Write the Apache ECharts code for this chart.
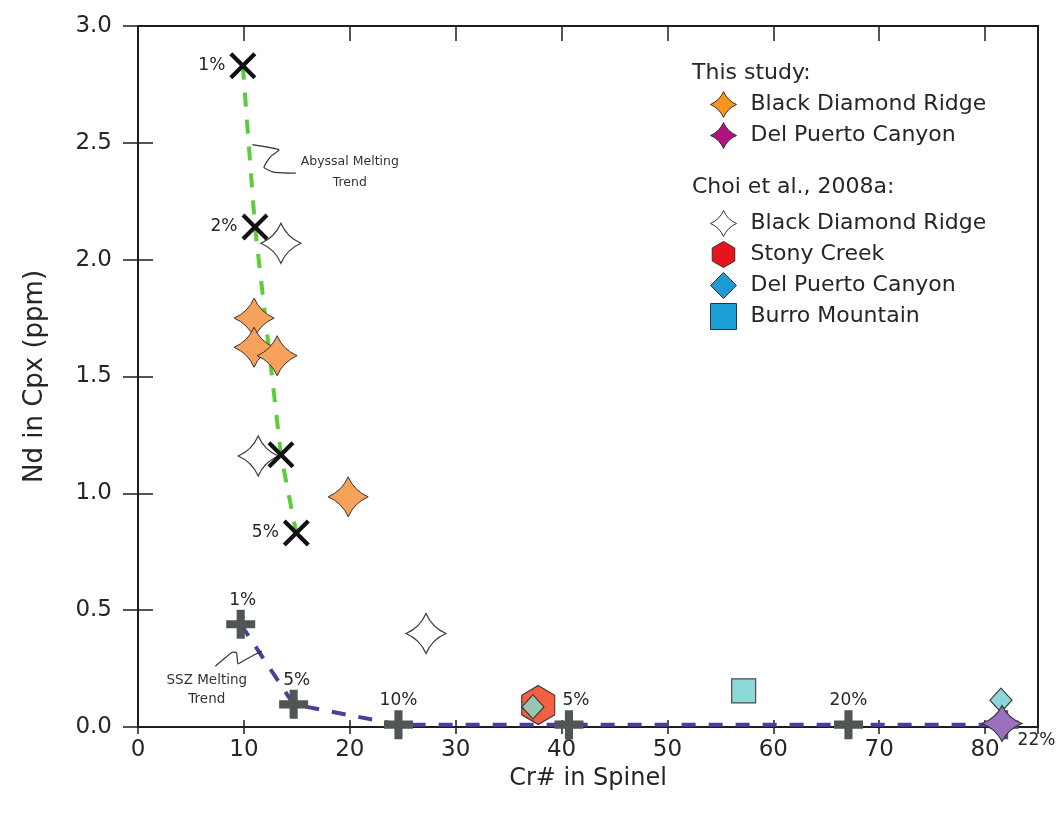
<!DOCTYPE html>
<html>
<head>
<meta charset="utf-8">
<script src="https://cdn.jsdelivr.net/npm/echarts@6/dist/echarts.min.js"></script>
<style>
  html, body { margin: 0; padding: 0; background: #ffffff; }
  #chart { width: 1057px; height: 817px; }
</style>
</head>
<body>
<div id="chart"></div>
<script>
// ---- Model melting trends (Cr# in spinel vs Nd in cpx) ----
const abyssalCr   = [9.9, 11.05, 13.5, 14.95];
const abyssalNd   = [2.83, 2.14, 1.165, 0.83];
const abyssalTags = ['1%', '2%', '', '5%'];

const sszCr   = [9.7, 14.7, 24.6, 40.7, 67.1, 81.8];
const sszNd   = [0.44, 0.097, 0.01, 0.01, 0.01, 0.01];
const sszTags = ['1%', '5%', '10%', '5%', '20%', '22%'];

// ---- This study ----
const bdrCr = [10.97, 10.96, 13.14, 19.85];
const bdrNd = [1.75, 1.625, 1.589, 0.985];
const dpcCr = [81.6];
const dpcNd = [0.015];

// ---- Choi et al., 2008a ----
const choiBdrCr = [13.5, 11.35, 27.2];
const choiBdrNd = [2.07, 1.16, 0.40];
const stonyCr   = [37.8];
const stonyNd   = [0.094];
const choiDpcCr = [37.3, 81.5];
const choiDpcNd = [0.086, 0.115];
const burroCr   = [57.2];
const burroNd   = [0.155];

// ---- Axis ticks ----
const xTicks = [0, 10, 20, 30, 40, 50, 60, 70, 80];
const yTicks = [0.0, 0.5, 1.0, 1.5, 2.0, 2.5, 3.0];

const FONT = 'DejaVu Sans';
const TXT = '#262626';

const STAR4 = 'path://M0,-10 Q3,-3 10,0 Q3,3 0,10 Q-3,3 -10,0 Q-3,-3 0,-10Z';
const XMARK = 'path://M-10,-7.8 L-7.8,-10 L0,-2.2 L7.8,-10 L10,-7.8 L2.2,0 L10,7.8 L7.8,10 L0,2.2 L-7.8,10 L-10,7.8 L-2.2,0Z';
const PLUS  = 'path://M-2.8,-10 L2.8,-10 L2.8,-2.8 L10,-2.8 L10,2.8 L2.8,2.8 L2.8,10 L-2.8,10 L-2.8,2.8 L-10,2.8 L-10,-2.8 L-2.8,-2.8Z';
const HEX   = 'path://M0,-10 L8.66,-5 L8.66,5 L0,10 L-8.66,5 L-8.66,-5Z';

const zip = (xs, ys) => xs.map((x, i) => [x, ys[i]]);

const chart = echarts.init(document.getElementById('chart'), null, { renderer: 'canvas' });

const abyssalLabelPos = ['left', 'left', 'left', 'left'];
const sszLabelPos = ['top', 'top', 'top', 'top', 'top', 'right'];
const sszLabelOffset = [[2, 0], [3, 0], [0, 0], [7, 0], [0, 0], [-2, 16]];

const pctLabel = { fontFamily: FONT, fontSize: 17, color: TXT };
const legendText = { fontFamily: FONT, fontSize: 22, color: TXT, padding: [0, 0, 0, 9], lineHeight: 24 };

const headers = [
  { type: 'text', left: 692, top: 62, style: { text: 'This study:', font: '22px "' + FONT + '"', fill: TXT } },
  { type: 'text', left: 692, top: 176, style: { text: 'Choi et al., 2008a:', font: '22px "' + FONT + '"', fill: TXT } }
];

const option = {
  animation: false,
  backgroundColor: '#ffffff',
  grid: { left: 138, right: 19, top: 26, bottom: 90, show: true, borderColor: '#1e1e1e', borderWidth: 2, backgroundColor: 'transparent' },
  xAxis: [
    {
      type: 'value', min: 0, max: 85, interval: 10, position: 'bottom',
      name: 'Cr# in Spinel', nameLocation: 'middle', nameGap: 34,
      nameTextStyle: { fontFamily: FONT, fontSize: 24, color: TXT },
      axisLine: { show: true, lineStyle: { color: '#1e1e1e', width: 2 } },
      axisTick: { show: true, inside: true, length: 7, lineStyle: { color: '#1e1e1e', width: 1.5 } },
      axisLabel: { fontFamily: FONT, fontSize: 23, color: TXT, margin: 12,
        formatter: v => (xTicks.indexOf(v) >= 0 ? String(v) : '') },
      splitLine: { show: false }
    },
    {
      type: 'value', min: 0, max: 85, interval: 10, position: 'bottom',
      axisLine: { show: false },
      axisTick: { show: true, inside: false, length: 7, lineStyle: { color: '#1e1e1e', width: 1.5 } },
      axisLabel: { show: false }, splitLine: { show: false }
    },
    {
      type: 'value', min: 0, max: 85, interval: 10, position: 'top',
      axisLine: { show: true, lineStyle: { color: '#1e1e1e', width: 2 } },
      axisTick: { show: true, inside: true, length: 15, lineStyle: { color: '#1e1e1e', width: 1.5 } },
      axisLabel: { show: false }, splitLine: { show: false }
    }
  ],
  yAxis: [
    {
      type: 'value', min: 0, max: 3, interval: 0.5, position: 'left',
      name: 'Nd in Cpx (ppm)', nameLocation: 'middle', nameGap: 90,
      nameTextStyle: { fontFamily: FONT, fontSize: 26, color: TXT },
      axisLine: { show: true, lineStyle: { color: '#1e1e1e', width: 2 } },
      axisTick: { show: true, inside: true, length: 15, lineStyle: { color: '#1e1e1e', width: 1.5 } },
      axisLabel: { fontFamily: FONT, fontSize: 23, color: TXT, margin: 26,
        formatter: v => (yTicks.indexOf(v) >= 0 ? v.toFixed(1) : '') },
      splitLine: { show: false }
    },
    {
      type: 'value', min: 0, max: 3, interval: 0.5, position: 'right',
      axisLine: { show: true, lineStyle: { color: '#1e1e1e', width: 2 } },
      axisTick: { show: true, inside: true, length: 15, lineStyle: { color: '#1e1e1e', width: 1.5 } },
      axisLabel: { show: false }, splitLine: { show: false }
    }
  ],
  legend: [
    {
      orient: 'vertical', left: 705, top: 86, itemWidth: 26, itemHeight: 26, itemGap: 4,
      selectedMode: false, textStyle: legendText,
      formatter: n => n.split(': ')[1],
      data: [
        { name: 'This study: Black Diamond Ridge', icon: STAR4,
          itemStyle: { color: '#f7941d', borderColor: '#333', borderWidth: 1, opacity: 1 } },
        { name: 'This study: Del Puerto Canyon', icon: STAR4,
          itemStyle: { color: '#b0127f', borderColor: '#333', borderWidth: 1, opacity: 1 } }
      ]
    },
    {
      orient: 'vertical', left: 705, top: 205, itemWidth: 26, itemHeight: 26, itemGap: 4,
      selectedMode: false, textStyle: legendText,
      formatter: n => n.split(': ')[1],
      data: [
        { name: 'Choi: Black Diamond Ridge', icon: STAR4,
          itemStyle: { color: '#ffffff', borderColor: '#333', borderWidth: 1, opacity: 1 } },
        { name: 'Choi: Stony Creek', icon: HEX,
          itemStyle: { color: '#e8141c', borderColor: '#333', borderWidth: 1, opacity: 1 } },
        { name: 'Choi: Del Puerto Canyon', icon: 'diamond',
          itemStyle: { color: '#1c9ad6', borderColor: '#333', borderWidth: 1, opacity: 1 } },
        { name: 'Choi: Burro Mountain', icon: 'path://M-8,-8 L8,-8 L8,8 L-8,8Z',
          itemStyle: { color: '#1c9ed6', borderColor: '#333', borderWidth: 1, opacity: 1 } }
      ]
    }
  ],
  graphic: headers,
  series: [
    {
      name: 'Abyssal Melting Trend', type: 'line', z: 1, symbol: 'none', silent: true,
      data: zip(abyssalCr, abyssalNd),
      lineStyle: { color: '#5ccc3a', width: 4, type: [14, 13] }
    },
    {
      name: 'SSZ Melting Trend', type: 'line', z: 1, symbol: 'none', silent: true,
      data: zip(sszCr, sszNd),
      lineStyle: { color: '#4b3f9c', width: 4, type: [14, 13] }
    },
    {
      name: 'Choi: Black Diamond Ridge', type: 'scatter', z: 3,
      symbol: STAR4, symbolSize: 40,
      itemStyle: { color: '#ffffff', borderColor: '#3a3a3a', borderWidth: 1.2, opacity: 1 },
      data: zip(choiBdrCr, choiBdrNd)
    },
    {
      name: 'Abyssal steps', type: 'scatter', z: 4,
      symbol: XMARK, symbolSize: 27,
      itemStyle: { color: '#111111', opacity: 1 },
      data: zip(abyssalCr, abyssalNd).map((p, i) => ({
        value: p,
        label: { show: abyssalTags[i] !== '', position: abyssalLabelPos[i], distance: 4,
          formatter: abyssalTags[i], ...pctLabel }
      }))
    },
    {
      name: 'Choi: Stony Creek', type: 'scatter', z: 5,
      symbol: HEX, symbolSize: [33, 39],
      itemStyle: { color: '#f2603f', borderColor: '#3a3a3a', borderWidth: 1.2, opacity: 1 },
      data: zip(stonyCr, stonyNd)
    },
    {
      name: 'SSZ steps', type: 'scatter', z: 4,
      symbol: PLUS, symbolSize: 29,
      itemStyle: { color: '#505555', opacity: 1 },
      data: zip(sszCr, sszNd).map((p, i) => ({
        value: p,
        label: { show: true, position: sszLabelPos[i], distance: 1, offset: sszLabelOffset[i],
          formatter: sszTags[i], ...pctLabel }
      }))
    },
    {
      name: 'Choi: Del Puerto Canyon', type: 'scatter', z: 6,
      symbol: 'diamond', symbolSize: [22, 24],
      itemStyle: { borderColor: '#3a3a3a', borderWidth: 1.2, opacity: 1 },
      data: zip(choiDpcCr, choiDpcNd).map((p, i) => ({
        value: p, itemStyle: { color: i === 0 ? '#97c6b0' : '#8cd7d7' }
      }))
    },
    {
      name: 'Choi: Burro Mountain', type: 'scatter', z: 6,
      symbol: 'rect', symbolSize: 24,
      itemStyle: { color: '#8cd8d6', borderColor: '#4a4a4a', borderWidth: 1.2, opacity: 1 },
      data: zip(burroCr, burroNd)
    },
    {
      name: 'This study: Black Diamond Ridge', type: 'scatter', z: 7,
      symbol: STAR4, symbolSize: 40,
      itemStyle: { color: '#f7a25b', borderColor: '#333', borderWidth: 1, opacity: 1 },
      data: zip(bdrCr, bdrNd)
    },
    {
      name: 'This study: Del Puerto Canyon', type: 'scatter', z: 7,
      symbol: STAR4, symbolSize: [40, 36],
      itemStyle: { color: '#9b70bf', borderColor: '#333', borderWidth: 1, opacity: 1 },
      data: zip(dpcCr, dpcNd)
    }
  ]
};

chart.setOption(option);

// Trend annotations: hand-drawn leader squiggles plus captions, placed in data space
const px = (x, y) => chart.convertToPixel({ gridIndex: 0 }, [x, y]);
const abyssalSquiggle = [[10.8, 2.492], [13.3, 2.47], [12.5, 2.44], [11.9, 2.395], [12.8, 2.375], [14.9, 2.37]];
const sszSquiggle = [[7.3, 0.26], [8.9, 0.32], [9.3, 0.318], [9.45, 0.27], [10.0, 0.285], [11.7, 0.325]];
const abyssalCaption = [20.0, 2.375];
const sszCaption = [6.5, 0.16];

const ac = px(abyssalCaption[0], abyssalCaption[1]);
const sc = px(sszCaption[0], sszCaption[1]);
chart.setOption({
  graphic: headers.concat([
    { type: 'polyline', z: 10, shape: { points: abyssalSquiggle.map(p => px(p[0], p[1])), smooth: 0.15 },
      style: { stroke: '#333', lineWidth: 1.2, fill: null } },
    { type: 'polyline', z: 10, shape: { points: sszSquiggle.map(p => px(p[0], p[1])), smooth: 0.15 },
      style: { stroke: '#333', lineWidth: 1.2, fill: null } },
    { type: 'text', x: ac[0], y: ac[1], z: 10,
      style: { text: 'Abyssal Melting\nTrend', font: '12.5px "' + FONT + '"', fill: '#333',
        align: 'center', verticalAlign: 'middle', lineHeight: 21 } },
    { type: 'text', x: sc[0], y: sc[1], z: 10,
      style: { text: 'SSZ Melting\nTrend', font: '13.5px "' + FONT + '"', fill: '#333',
        align: 'center', verticalAlign: 'middle', lineHeight: 19 } }
  ])
}, { replaceMerge: ['graphic'] });
</script>
</body>
</html>
